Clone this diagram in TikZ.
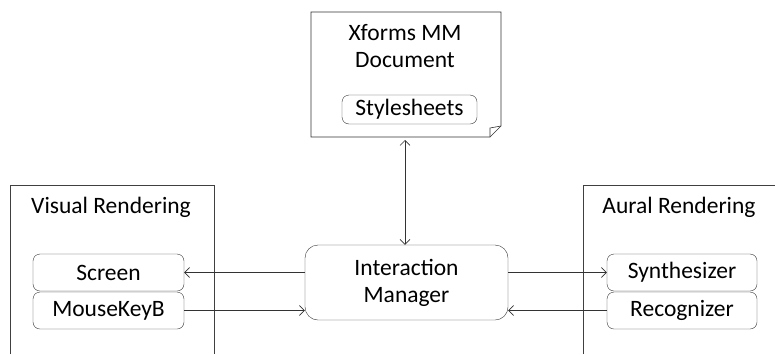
\documentclass[tikz,border=0pt]{standalone}
\usepackage{fontspec}
\setmainfont{Carlito}
\usepackage{tikz}
\usetikzlibrary{arrows.meta}
\tikzset{box/.style={draw=black!80,rounded corners=7pt,inner sep=0pt,
  minimum width=151pt,minimum height=37pt},
 bigbox/.style={draw=black!80,rounded corners=13pt,inner sep=0pt,
  minimum width=203pt,minimum height=75pt,align=center},
 frame/.style={draw=black!75,line width=0.6pt},
 link/.style={draw=black!80,line width=0.6pt},
 }

\begin{document}
\begin{tikzpicture}[x=1pt,y=-1pt,font=\fontsize{23.5}{30}\selectfont,
  >={Straight Barb[length=5pt,width=10pt]}]
        \useasboundingbox (0,0) rectangle (775,354);
        % document sheet
        \draw[link] (311,12) -- (501,12) -- (501,126) -- (490,137) -- (311,137) -- cycle;
        \draw[link] (490,137) -- (490,128) -- (501,126);
        \node[align=center] (doc) at (405,46) {Xforms MM\\[-3pt]Document};
        \node[box,minimum width=135pt,minimum height=29pt] (style) at (409.5,109.5) {Stylesheets};
        \coordinate (docb) at (405,140);
        % rendering frames
        \draw[frame] (10,354) -- (10,185) -- (214,185) -- (214,354);
        \draw[frame] (583,354) -- (583,185) -- (775,185);
        \node (vis) at (111,207) {Visual Rendering};
        \node (aur) at (679,207) {Aural Rendering};
        % boxes
        \node[bigbox] (im) at (406.5,282.5) {Interaction\\[-3pt]Manager};
        \node[box] (scr) at (108.5,272.5) {Screen};
        \node[box] (mkb) at (108.5,310.5) {MouseKeyB};
        \node[box,minimum width=150pt] (syn) at (682,272.5) {Synthesizer};
        \node[box,minimum width=150pt] (rec) at (682,310.5) {Recognizer};
        % connectors
        \draw[link,<->] (docb) -- (im.north -| docb);
        \draw[link,->] (im.west |- scr) -- (scr.east);
        \draw[link,->] (mkb.east) -- (im.west |- mkb);
        \draw[link,->] (im.east |- syn) -- (syn.west);
        \draw[link,->] (rec.west) -- (im.east |- rec);
    \end{tikzpicture}
\end{document}
